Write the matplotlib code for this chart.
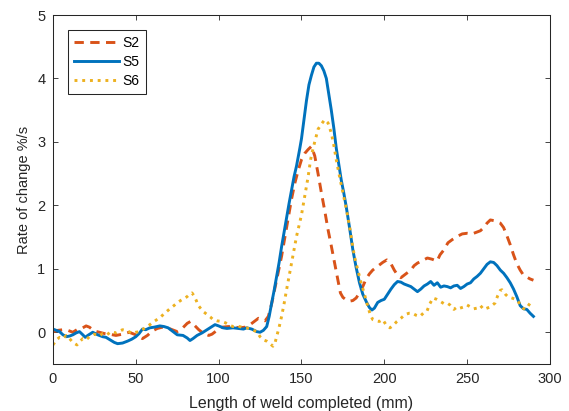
"""Rate of change along the weld: S2 / S5 / S6 (MATLAB-style line plot)."""

import matplotlib
matplotlib.use("Agg")
import matplotlib.pyplot as plt

plt.rcParams["font.family"] = ["Liberation Sans", "DejaVu Sans"]

# ── data ────────────────────────────────────────────────────────────────────
s2_x = [0, 3, 6, 9, 12, 15, 18, 20, 22, 25, 28, 31, 34, 38, 42, 46, 50, 54, 57,
        60, 63, 66, 69, 72, 75, 78, 81, 83, 85, 88, 91, 94, 96, 99, 102, 106,
        110, 113, 116, 119, 122, 124, 126, 128, 130, 132, 134, 136, 138, 140,
        142, 144, 146, 148, 150, 152, 154, 156, 158, 160, 162, 164, 166, 168,
        170, 172, 173.5, 175, 177, 179, 181, 183, 185, 187, 189, 191, 193, 196,
        199, 201.5, 204, 206, 208, 210, 213, 216, 218, 220, 223, 226, 229, 231.8,
        233.6, 236, 238.4, 241, 244, 247, 250, 253, 256, 258, 260, 262, 264,
        266, 268, 270, 272, 274, 276, 278, 280, 282, 284, 286, 288, 290]
s2_y = [0.01, 0.03, 0.04, 0.03, 0.0, 0.05, 0.07, 0.10, 0.08, 0.02, 0.0, -0.02,
        -0.03, -0.05, -0.03, 0.0, -0.04, -0.10, -0.05, 0.02, 0.06, 0.08, 0.07,
        0.04, 0.01, 0.06, 0.14, 0.17, 0.12, 0.04, -0.02, -0.05, -0.03, 0.03,
        0.08, 0.09, 0.08, 0.07, 0.08, 0.12, 0.18, 0.22, 0.20, 0.18, 0.25, 0.45,
        0.70, 0.95, 1.20, 1.50, 1.80, 2.10, 2.35, 2.55, 2.72, 2.82, 2.88, 2.93,
        2.78, 2.50, 2.20, 1.92, 1.62, 1.36, 1.09, 0.82, 0.62, 0.55, 0.51, 0.49,
        0.50, 0.54, 0.62, 0.72, 0.84, 0.92, 0.98, 1.04, 1.10, 1.14, 1.08, 0.98,
        0.90, 0.86, 0.92, 0.98, 1.05, 1.09, 1.13, 1.17, 1.15, 1.12, 1.22, 1.30,
        1.41, 1.46, 1.51, 1.55, 1.56, 1.55, 1.58, 1.60, 1.65, 1.72, 1.77, 1.76,
        1.74, 1.72, 1.65, 1.52, 1.38, 1.22, 1.08, 0.98, 0.90, 0.87, 0.84, 0.82]

s5_x = [0, 2, 4, 6, 8, 10, 12, 14, 16, 18, 19.5, 21, 24, 27, 30, 32, 34.5, 37,
        39, 42, 45, 47.5, 50, 52, 54, 56, 58.5, 61, 64.5, 67, 69.5, 72, 75,
        78.5, 81, 82.7, 84.5, 87, 90, 93, 95.5, 97.8, 100, 102.6, 105, 108.7,
        112, 115, 117, 120, 123, 125, 127, 129, 130.5, 132, 133.5, 135, 136.5,
        138, 139.5, 141, 142.5, 144, 145.5, 147, 149, 150, 151.5, 153, 154.5,
        156, 157.5, 159, 160.5, 162, 163.5, 165, 166.5, 168, 169.5, 171, 172.5,
        174, 175.5, 177, 179, 181, 183, 185, 187, 189.5, 191, 192.5, 194, 196,
        198, 200, 202, 204, 206, 208, 210, 212, 214, 216, 218, 220, 222, 224,
        226, 228, 230, 232, 234, 236, 238, 240, 242, 244, 246, 248, 250, 252,
        254, 256, 258, 260, 262, 264, 266, 268, 270, 272, 274, 276, 278, 280,
        282, 284, 286, 288, 290]
s5_y = [0.05, 0.03, 0.01, -0.04, -0.07, -0.06, -0.04, -0.01, 0.01, -0.04,
        -0.08, -0.05, 0.0, -0.04, -0.07, -0.08, -0.12, -0.16, -0.18, -0.17,
        -0.14, -0.11, -0.07, -0.02, 0.05, 0.04, 0.07, 0.08, 0.10, 0.09, 0.07,
        0.02, -0.04, -0.05, -0.09, -0.13, -0.10, -0.05, -0.01, 0.04, 0.08, 0.12,
        0.10, 0.07, 0.06, 0.07, 0.06, 0.05, 0.07, 0.05, 0.01, 0.0, 0.03, 0.09,
        0.25, 0.46, 0.66, 0.88, 1.10, 1.35, 1.58, 1.82, 2.03, 2.24, 2.45, 2.62,
        2.90, 3.05, 3.35, 3.65, 3.90, 4.05, 4.18, 4.24, 4.24, 4.20, 4.12, 4.00,
        3.75, 3.50, 3.22, 2.90, 2.65, 2.40, 2.20, 1.98, 1.65, 1.30, 1.02, 0.78,
        0.60, 0.46, 0.39, 0.35, 0.38, 0.47, 0.50, 0.52, 0.60, 0.68, 0.75, 0.80,
        0.79, 0.76, 0.74, 0.72, 0.68, 0.64, 0.68, 0.73, 0.76, 0.80, 0.74, 0.78,
        0.71, 0.73, 0.72, 0.70, 0.73, 0.74, 0.69, 0.72, 0.76, 0.78, 0.84, 0.88,
        0.93, 1.00, 1.07, 1.11, 1.10, 1.05, 0.98, 0.93, 0.86, 0.78, 0.68, 0.56,
        0.42, 0.37, 0.36, 0.30, 0.25]

s6_x = [0, 2, 4, 6, 8, 10, 12, 14.5, 16, 18, 20, 22, 25, 28, 30, 32.6, 35, 38,
        42, 45, 48, 50, 52.5, 55, 58.5, 60.5, 62.7, 65, 67, 68.8, 71, 73, 74.8,
        77, 79, 80.9, 82.5, 83.9, 85, 86.5, 87.5, 89, 91, 93, 95, 96.6, 99, 102,
        104, 106, 108.6, 111, 114, 117, 119, 121, 123, 125, 127, 129, 131, 132.8,
        134, 135, 136.5, 138, 139.5, 141, 142.5, 144, 145.5, 147, 148.5, 150,
        152, 154, 155.5, 157, 158.5, 160, 162, 164, 166, 168, 169.5, 171, 173,
        175, 177, 179, 180.5, 182, 184, 186, 188, 190, 191.5, 193, 195, 197,
        199, 201, 203.4, 205, 207.6, 210, 212.5, 215, 217, 219, 221.5, 223.5,
        225.7, 227.5, 229.4, 231.5, 233.6, 236, 238, 239.6, 242, 244, 245.7,
        248, 249.9, 252, 254, 255.9, 258, 260, 262, 264, 266.8, 268.5, 270,
        271, 273, 274.6, 277, 280, 282, 283.7, 285, 286.7, 288, 289.7]
s6_y = [-0.20, -0.12, -0.08, -0.10, -0.05, -0.10, -0.16, -0.20, -0.15, -0.10,
        -0.12, -0.07, -0.03, -0.06, -0.02, -0.04, 0.01, -0.01, 0.04, 0.02,
        -0.02, 0.0, 0.01, 0.06, 0.12, 0.16, 0.20, 0.24, 0.29, 0.33, 0.38, 0.42,
        0.46, 0.50, 0.53, 0.56, 0.60, 0.62, 0.58, 0.50, 0.43, 0.38, 0.32, 0.28,
        0.24, 0.20, 0.18, 0.17, 0.15, 0.12, 0.09, 0.10, 0.08, 0.07, 0.05, 0.03,
        0.01, -0.07, -0.12, -0.14, -0.18, -0.22, -0.17, -0.07, 0.08, 0.25, 0.45,
        0.67, 0.88, 1.09, 1.30, 1.51, 1.68, 1.85, 2.15, 2.45, 2.72, 2.90, 3.05,
        3.20, 3.28, 3.35, 3.30, 3.14, 2.95, 2.72, 2.45, 2.20, 1.95, 1.67, 1.42,
        1.19, 0.98, 0.78, 0.60, 0.41, 0.28, 0.20, 0.18, 0.17, 0.20, 0.12, 0.07,
        0.10, 0.17, 0.22, 0.28, 0.30, 0.30, 0.27, 0.25, 0.30, 0.33, 0.45, 0.54,
        0.52, 0.49, 0.45, 0.46, 0.43, 0.36, 0.40, 0.38, 0.40, 0.43, 0.40, 0.37,
        0.38, 0.42, 0.36, 0.38, 0.40, 0.46, 0.58, 0.66, 0.67, 0.60, 0.56, 0.54,
        0.51, 0.44, 0.38, 0.36, 0.41, 0.46, 0.51]

x_ticks = [0, 50, 100, 150, 200, 250, 300]
y_ticks = [0, 1, 2, 3, 4, 5]

# MATLAB default colour order
C_BLUE, C_ORANGE, C_YELLOW = "#0072BD", "#D95319", "#EDB120"
INK = "#262626"

fig = plt.figure(figsize=(5.69, 4.11), dpi=100)
ax = fig.add_axes([0.0931, 0.1144, 0.8735, 0.8491])

ax.plot(s2_x, s2_y, color=C_ORANGE, lw=2.1, dashes=(3.2, 2.2), label="S2")
ax.plot(s5_x, s5_y, color=C_BLUE, lw=2.1, label="S5")
ax.plot(s6_x, s6_y, color=C_YELLOW, lw=2.1, linestyle=":", label="S6")

ax.set_xlim(0, 300)
ax.set_ylim(-0.5, 5)
ax.set_xticks(x_ticks)
ax.set_yticks(y_ticks)

ax.tick_params(direction="in", top=True, right=True, length=3.6, width=0.6,
               color=INK, labelcolor=INK, labelsize=10.5)
ax.tick_params(axis="x", pad=6)
ax.tick_params(axis="y", pad=5.5)
for sp in ax.spines.values():
    sp.set_color(INK)
    sp.set_linewidth(0.75)

ax.set_xlabel("Length of weld completed (mm)", fontsize=11.5, color=INK)
ax.set_ylabel("Rate of change %/s", fontsize=10.5, color=INK)
ax.xaxis.set_label_coords(0.5, -0.092)
ax.yaxis.set_label_coords(-0.045, 0.5)

leg = ax.legend(loc="upper left", bbox_to_anchor=(0.030, 0.957),
                borderaxespad=0, fontsize=10, handlelength=3.2,
                handletextpad=0.3, labelspacing=0.35, borderpad=0.45,
                fancybox=False, framealpha=1)
leg.get_frame().set_edgecolor(INK)
leg.get_frame().set_linewidth(0.75)
for t in leg.get_texts():
    t.set_color("black")

plt.savefig("out.png", dpi=100)
plt.close()
